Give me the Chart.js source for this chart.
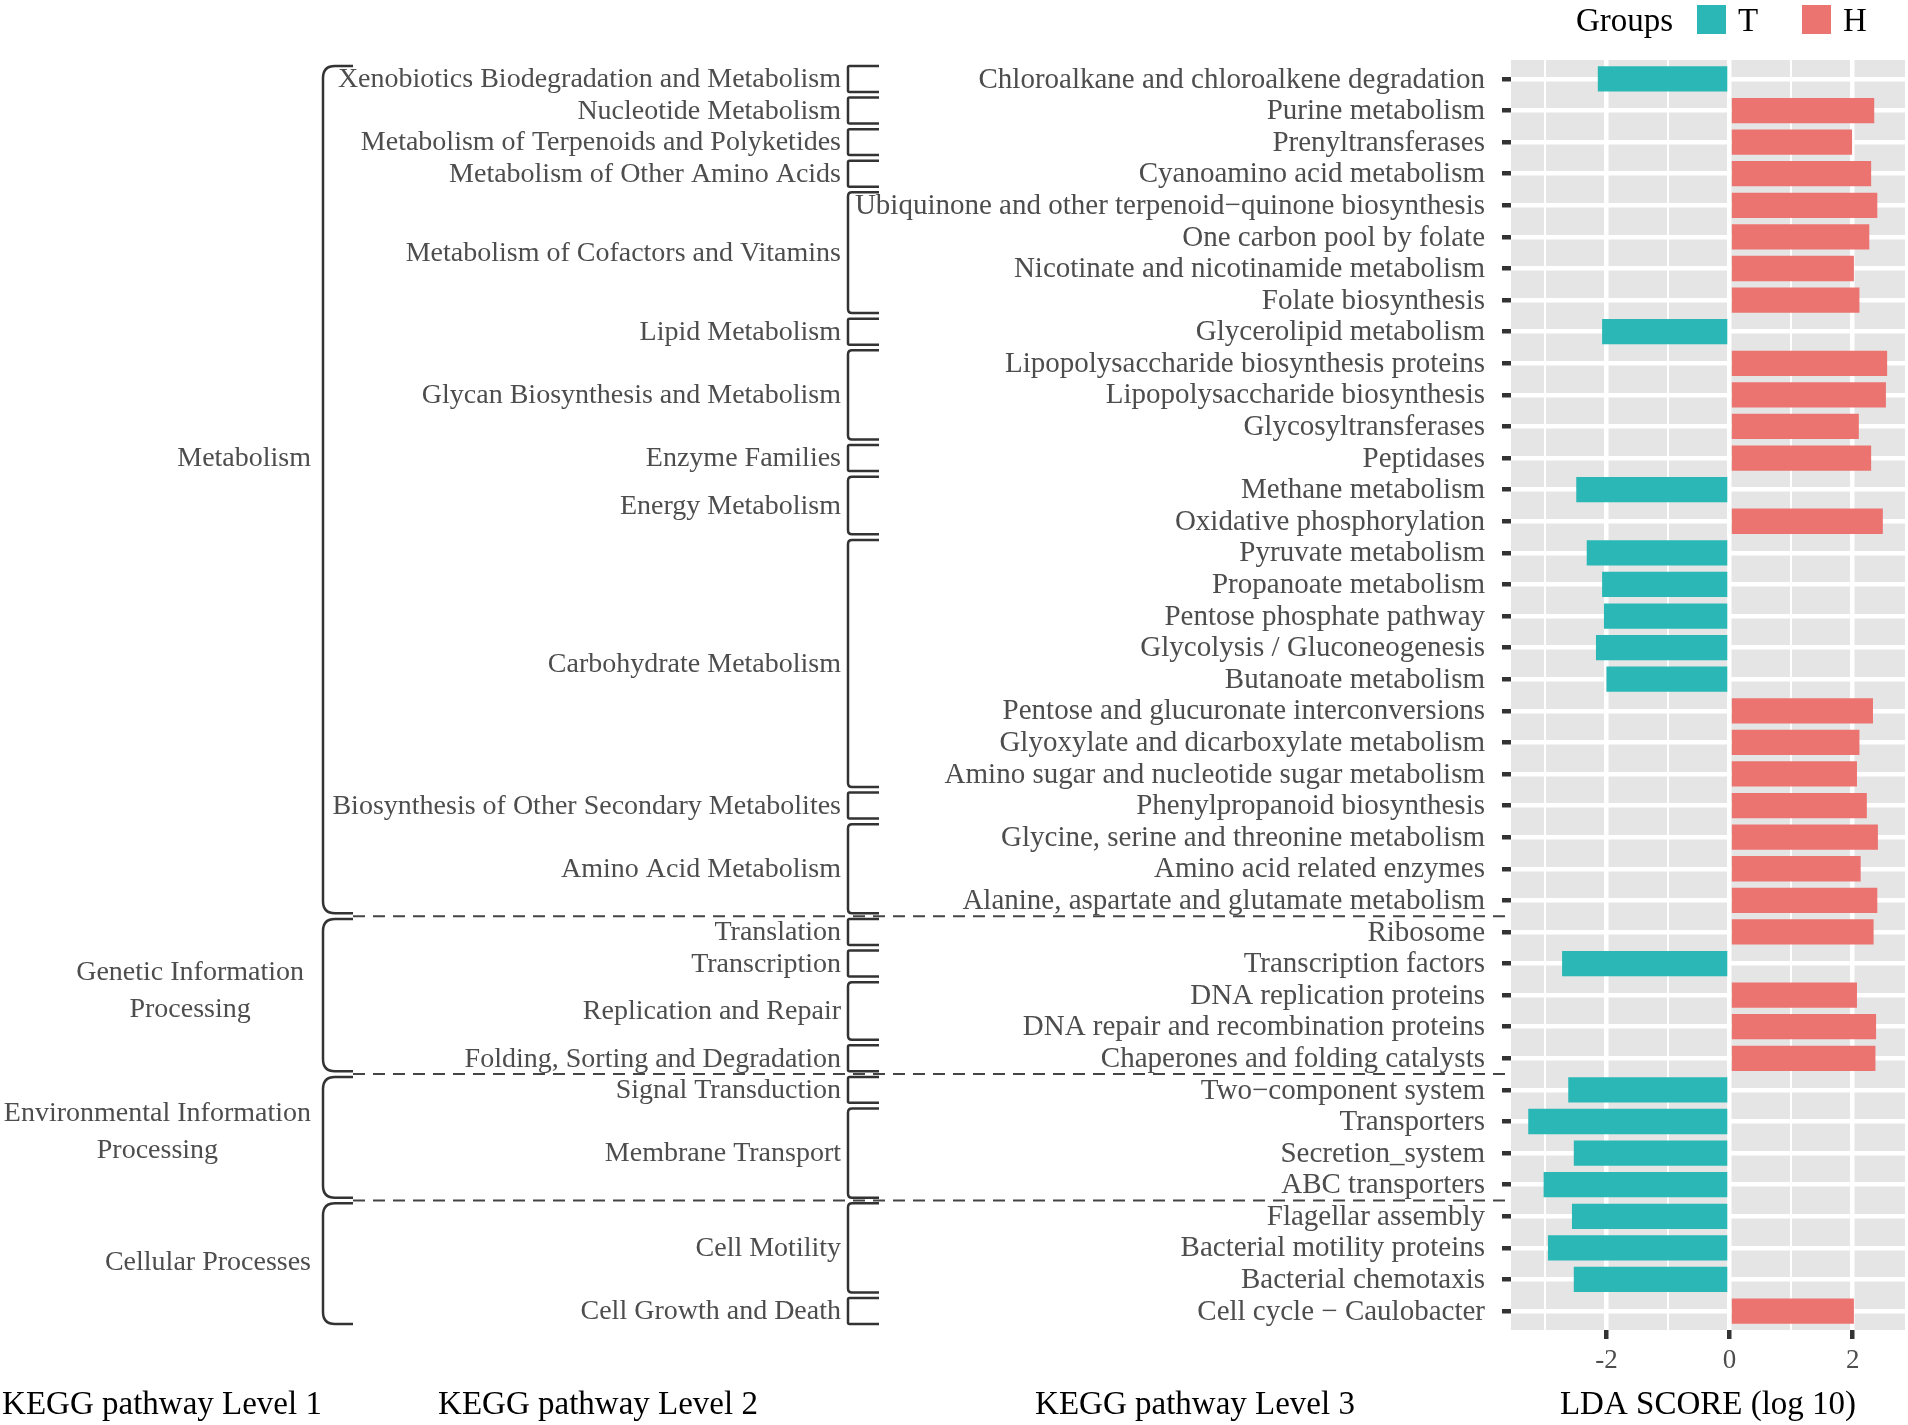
<!DOCTYPE html>
<html>
<head>
<meta charset="utf-8">
<script src="https://cdn.jsdelivr.net/npm/chart.js@4.4.1/dist/chart.umd.min.js"></script>
<style>
  html, body { margin: 0; padding: 0; background: #fff; }
  #wrap { width: 1908px; height: 1425px; position: relative; }
</style>
</head>
<body>
<div id="wrap"><canvas id="lda"></canvas></div>
<script>
// KEGG level 3 pathways, top to bottom
const level3 = [
  'Chloroalkane and chloroalkene degradation',
  'Purine metabolism',
  'Prenyltransferases',
  'Cyanoamino acid metabolism',
  'Ubiquinone and other terpenoid\u2212quinone biosynthesis',
  'One carbon pool by folate',
  'Nicotinate and nicotinamide metabolism',
  'Folate biosynthesis',
  'Glycerolipid metabolism',
  'Lipopolysaccharide biosynthesis proteins',
  'Lipopolysaccharide biosynthesis',
  'Glycosyltransferases',
  'Peptidases',
  'Methane metabolism',
  'Oxidative phosphorylation',
  'Pyruvate metabolism',
  'Propanoate metabolism',
  'Pentose phosphate pathway',
  'Glycolysis / Gluconeogenesis',
  'Butanoate metabolism',
  'Pentose and glucuronate interconversions',
  'Glyoxylate and dicarboxylate metabolism',
  'Amino sugar and nucleotide sugar metabolism',
  'Phenylpropanoid biosynthesis',
  'Glycine, serine and threonine metabolism',
  'Amino acid related enzymes',
  'Alanine, aspartate and glutamate metabolism',
  'Ribosome',
  'Transcription factors',
  'DNA replication proteins',
  'DNA repair and recombination proteins',
  'Chaperones and folding catalysts',
  'Two\u2212component system',
  'Transporters',
  'Secretion_system',
  'ABC transporters',
  'Flagellar assembly',
  'Bacterial motility proteins',
  'Bacterial chemotaxis',
  'Cell cycle \u2212 Caulobacter'
];

// LDA score (log 10), negative = group T, positive = group H
const ldaScore = [
  -2.14, 2.35, 1.99, 2.30, 2.40, 2.27, 2.02, 2.11,
  -2.07, 2.56, 2.54, 2.10, 2.30, -2.49, 2.49,
  -2.32, -2.07, -2.04, -2.17, -2.00,
  2.33, 2.11, 2.07, 2.23, 2.41, 2.13, 2.40,
  2.34, -2.72, 2.07, 2.38, 2.37,
  -2.62, -3.27, -2.53, -3.02,
  -2.56, -2.95, -2.53, 2.02
];

const groupNames = ['T', 'H'];
const groupColors = ['#2AB7B6', '#EB7470'];

// level 2 pathways with the rows they span
const level2Names = [
  'Xenobiotics Biodegradation and Metabolism',
  'Nucleotide Metabolism',
  'Metabolism of Terpenoids and Polyketides',
  'Metabolism of Other Amino Acids',
  'Metabolism of Cofactors and Vitamins',
  'Lipid Metabolism',
  'Glycan Biosynthesis and Metabolism',
  'Enzyme Families',
  'Energy Metabolism',
  'Carbohydrate Metabolism',
  'Biosynthesis of Other Secondary Metabolites',
  'Amino Acid Metabolism',
  'Translation',
  'Transcription',
  'Replication and Repair',
  'Folding, Sorting and Degradation',
  'Signal Transduction',
  'Membrane Transport',
  'Cell Motility',
  'Cell Growth and Death'
];
const level2First = [0, 1, 2, 3, 4, 8, 9, 12, 13, 15, 23, 24, 27, 28, 29, 31, 32, 33, 36, 39];
const level2Last  = [0, 1, 2, 3, 7, 8, 11, 12, 14, 22, 23, 26, 27, 28, 30, 31, 32, 35, 38, 39];

// level 1 pathways
const level1Names = [
  ['Metabolism'],
  ['Genetic Information', 'Processing'],
  ['Environmental Information', 'Processing'],
  ['Cellular Processes']
];
const level1First = [0, 27, 32, 36];
const level1Last  = [26, 31, 35, 39];
const level1LabelRow = [12, 28.85, 33.3, 37.45];
const level1LabelRight = [311, 304, 311, 311];

const xTicks = [-3, -2, -1, 0, 1, 2];
const xLabelled = [-2, 0, 2];

const FONT = "'Liberation Serif', 'Times New Roman', serif";
const INK = '#4d4d4d';
const LINE = '#333333';

// bracket with rounded corners, opening to the right
function bracket(ctx, x, x2, top, bottom, r) {
  ctx.beginPath();
  ctx.moveTo(x2, top);
  ctx.lineTo(x + r, top);
  ctx.quadraticCurveTo(x, top, x, top + r);
  ctx.lineTo(x, bottom - r);
  ctx.quadraticCurveTo(x, bottom, x + r, bottom);
  ctx.lineTo(x2, bottom);
  ctx.stroke();
}

const hierarchy = {
  id: 'hierarchy',
  beforeDraw(chart) {
    const { ctx, chartArea: a } = chart;
    ctx.save();
    ctx.fillStyle = '#e5e5e5';
    ctx.fillRect(a.left, a.top, a.right - a.left, a.bottom - a.top);
    ctx.restore();
  },
  afterDraw(chart) {
    const { ctx, chartArea: a } = chart;
    const y = chart.scales.y;
    const py = v => y.getPixelForValue(v);
    const half = 0.41;

    ctx.save();
    ctx.font = `28px ${FONT}`;
    ctx.fillStyle = INK;
    ctx.strokeStyle = LINE;
    ctx.lineWidth = 2.5;
    ctx.textBaseline = 'middle';

    // level 2 labels + brackets
    ctx.textAlign = 'right';
    level2Names.forEach((name, i) => {
      const f = level2First[i], l = level2Last[i];
      ctx.fillText(name, 841, py((f + l) / 2) + 1);
      bracket(ctx, 848, 879, py(f - half), py(l + half), l > f ? 4 : 1.5);
    });

    // level 1 labels + braces
    level1Names.forEach((lines, g) => {
      const cy = py(level1LabelRow[g]) + 1;
      const w = Math.max(...lines.map(t => ctx.measureText(t).width));
      ctx.textAlign = 'center';
      lines.forEach((t, k) => {
        ctx.fillText(t, level1LabelRight[g] - w / 2, cy + (k - (lines.length - 1) / 2) * 36.7);
      });
      bracket(ctx, 323, 353, py(level1First[g] - half), py(level1Last[g] + half), 12);
    });

    // dashed separators between level 1 groups
    ctx.setLineDash([12, 8]);
    ctx.lineWidth = 2;
    ctx.strokeStyle = '#444';
    level1Last.slice(0, -1).forEach(r => {
      const yy = py(r + 0.5);
      ctx.beginPath();
      ctx.moveTo(353, yy);
      ctx.lineTo(a.left - 4, yy);
      ctx.stroke();
    });
    ctx.setLineDash([]);

    // column titles under the label columns
    ctx.font = `33px ${FONT}`;
    ctx.fillStyle = '#000';
    ctx.textAlign = 'center';
    ctx.fillText('KEGG pathway Level 1', 162, 1405);
    ctx.fillText('KEGG pathway Level 2', 598, 1405);
    ctx.fillText('KEGG pathway Level 3', 1195, 1405);
    ctx.restore();
  }
};

// "Groups  [T]  [H]" legend in the top right corner
const groupsLegend = {
  id: 'groupsLegend',
  afterDraw(chart) {
    const { ctx } = chart;
    const sets = chart.data.datasets;
    ctx.save();
    ctx.font = `33px ${FONT}`;
    ctx.fillStyle = '#000';
    ctx.textBaseline = 'middle';
    ctx.textAlign = 'left';
    ctx.fillText('Groups', 1576, 22);
    const boxX = [1697, 1802];
    sets.forEach((ds, k) => {
      ctx.fillStyle = ds.backgroundColor;
      ctx.fillRect(boxX[k], 5, 29, 29);
      ctx.fillStyle = '#000';
      ctx.fillText(ds.label, boxX[k] + 41, 22);
    });
    ctx.restore();
  }
};

new Chart(document.getElementById('lda'), {
  type: 'bar',
  data: {
    datasets: groupNames.map((g, k) => ({
      label: g,
      data: ldaScore
        .map((v, i) => ({ x: v, y: i }))
        .filter(p => (k === 0 ? p.x < 0 : p.x > 0)),
      backgroundColor: groupColors[k],
      grouped: false,
      barPercentage: 0.8,
      categoryPercentage: 1
    }))
  },
  options: {
    indexAxis: 'y',
    responsive: true,
    maintainAspectRatio: false,
    animation: false,
    layout: { padding: { top: 60, right: 3, bottom: 0, left: 0 } },
    plugins: {
      legend: { display: false },
      tooltip: { enabled: false }
    },
    scales: {
      y: {
        type: 'linear',
        reverse: true,
        offset: false,
        bounds: 'data',
        min: -0.6,
        max: 39.6,
        afterBuildTicks: s => { s.ticks = level3.map((_, i) => ({ value: i })); },
        afterFit: s => { s.width = 1511; },
        border: { display: false },
        grid: {
          offset: false,
          color: '#ffffff',
          lineWidth: 4.5,
          tickLength: 9,
          tickColor: LINE,
          tickWidth: 4.5
        },
        ticks: {
          autoSkip: false,
          padding: 17,
          labelOffset: 1,
          color: INK,
          font: { family: FONT, size: 29, lineHeight: 1 },
          callback: v => level3[v]
        }
      },
      x: {
        type: 'linear',
        bounds: 'data',
        min: -3.55,
        max: 2.85,
        afterBuildTicks: s => { s.ticks = xTicks.map(v => ({ value: v })); },
        afterFit: s => { s.height = 95; },
        border: { display: false },
        grid: {
          color: '#ffffff',
          lineWidth: c => (xLabelled.includes(c.tick.value) ? 4.5 : 2),
          tickLength: 9,
          tickColor: c => (xLabelled.includes(c.tick.value) ? LINE : 'rgba(0,0,0,0)'),
          tickWidth: 4.5
        },
        ticks: {
          padding: 8,
          color: INK,
          maxRotation: 0,
          font: { family: FONT, size: 27, lineHeight: 1 },
          callback: v => (xLabelled.includes(v) ? String(v) : '')
        },
        title: {
          display: true,
          text: 'LDA SCORE (log 10)',
          color: '#000',
          font: { family: FONT, size: 33, lineHeight: 1 },
          padding: { top: 0, bottom: 3.5 }
        }
      }
    }
  },
  plugins: [hierarchy, groupsLegend]
});
</script>
</body>
</html>
